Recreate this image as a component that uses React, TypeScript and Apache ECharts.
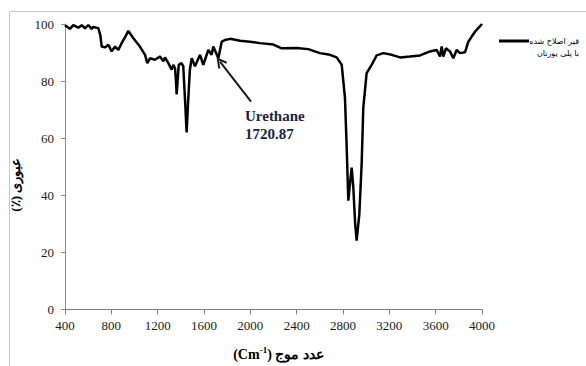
import React, { useEffect, useRef } from "react";
import * as echarts from "echarts";

const wavenumbers = [
  400, 443, 472, 515, 544, 573, 601, 630, 644, 688, 705, 717, 745, 774, 803, 832, 860, 889, 920, 947,
  990, 1047, 1091, 1111, 1134, 1177, 1220, 1249, 1263, 1292, 1321, 1335, 1350, 1358, 1364, 1372, 1382,
  1405, 1421, 1438, 1450, 1462, 1478, 1494, 1522, 1566, 1594, 1637, 1666, 1680, 1724, 1753,
  1781, 1825, 1911, 1997, 2083, 2200, 2270, 2400, 2500, 2601, 2688, 2745, 2789, 2817, 2832, 2846, 2860,
  2875, 2889, 2905, 2918, 2941, 2961, 2975, 3004, 3047, 3091, 3148, 3220, 3292, 3378, 3465, 3551, 3609,
  3637, 3652, 3666, 3689, 3724, 3752, 3781, 3810, 3853, 3882, 3911, 3940, 4000,
];
const transmittance = [
  99.6, 98.3, 99.6, 98.7, 99.6, 98.5, 99.6, 98.3, 99.0, 98.5, 96.0, 92.1, 91.8, 92.7, 90.4, 92.1, 90.9, 93.3, 95.5, 97.6,
  95.0, 92.1, 89.2, 86.3, 88.0, 87.5, 88.6, 86.9, 88.3, 86.3, 84.0, 85.7, 84.5, 80.0, 75.3, 80.0, 85.7,
  86.3, 85.2, 72.0, 62.0, 72.0, 84.0, 88.0, 85.2, 89.2, 85.7, 90.9, 89.2, 92.1, 88.0, 93.8,
  94.4, 94.8, 94.1, 93.8, 93.3, 92.8, 91.5, 91.6, 91.2, 89.8, 89.2, 88.3, 85.7, 74.1, 56.7, 38.1, 44.0,
  49.7, 42.8, 30.0, 24.1, 33.4, 50.9, 70.6, 82.8, 85.7, 89.0, 89.8, 89.2, 88.3, 88.6, 89.0, 90.4, 90.9,
  88.6, 92.1, 88.6, 91.5, 90.4, 88.0, 90.9, 89.8, 90.1, 93.8, 95.6, 97.3, 100.0,
];
const seriesName = "قیر اصلاح شده\nبا پلی یورتان";
const legendLines = ["قیر اصلاح شده", "با پلی یورتان"];
const annotationLines = ["Urethane", "1720.87"];
const arrowTail = [2006, 72.8];
const arrowHead = [1738, 86.8];

export default function App() {
  const ref = useRef<HTMLDivElement>(null);
  useEffect(() => {
    if (!ref.current) return;
    const chart = echarts.init(ref.current, null, { renderer: "svg" });
    const serif = "'Liberation Serif', 'Times New Roman', serif";
    chart.setOption({
      animation: false,
      backgroundColor: "#ffffff",
      grid: { left: 65, right: 104, top: 24, bottom: 55, containLabel: false },
      xAxis: {
        type: "value",
        min: 400,
        max: 4000,
        interval: 400,
        name: "{a|(Cm}{s|-1}{a|) عدد موج}",
        nameLocation: "middle",
        nameGap: 36,
        nameTextStyle: {
          padding: [0, 0, 0, 10],
          rich: {
            a: { fontFamily: serif, fontWeight: "bold", fontSize: 14, color: "#000" },
            s: { fontFamily: serif, fontWeight: "bold", fontSize: 9, color: "#000", padding: [0, 0, 8, 0] },
          },
        },
        axisLine: { show: true, lineStyle: { color: "#7f7f7f", width: 1 } },
        axisTick: { show: true, length: 5, inside: false, lineStyle: { color: "#7f7f7f" } },
        axisLabel: {
          fontFamily: serif,
          fontSize: 13,
          color: "#1a1a1a",
          margin: 9,
          formatter: (v: number) => String(v),
        },
        splitLine: { show: false },
      },
      yAxis: {
        type: "value",
        min: 0,
        max: 100,
        interval: 20,
        name: "(٪) عبوری",
        nameLocation: "middle",
        nameGap: 43,
        nameTextStyle: {
          fontFamily: serif,
          fontWeight: "bold",
          fontSize: 13,
          color: "#000",
          padding: [0, 36, 0, 0],
        },
        axisLine: { show: true, lineStyle: { color: "#8c8c8c", width: 1 } },
        axisTick: { show: true, length: 4, inside: false, lineStyle: { color: "#8c8c8c" } },
        axisLabel: {
          fontFamily: serif,
          fontSize: 13,
          color: "#1a1a1a",
          margin: 11,
          formatter: (v: number) => String(v),
        },
        splitLine: { show: false },
      },
      series: [
        {
          name: seriesName,
          type: "line",
          data: wavenumbers.map((w, i) => [w, transmittance[i]]),
          showSymbol: false,
          symbol: "none",
          smooth: false,
          lineStyle: { color: "#000", width: 2.5 },
          itemStyle: { color: "#000" },
          markLine: {
            silent: true,
            symbol: ["none", "path://M0,0 L6,9 L4.2,10.2 L0,3.6 L-4.2,10.2 L-6,9 Z"],
            symbolSize: [11, 11],
            label: { show: false },
            lineStyle: { color: "#1a1a1a", width: 2, type: "solid" },
            data: [[{ coord: arrowTail }, { coord: arrowHead }]],
          },
        },
      ],
      graphic: [
        {
          type: "rect",
          shape: { x: 9.5, y: 11.5, width: 600, height: 400 },
          style: { fill: "none", stroke: "#c8c8c8", lineWidth: 1 },
          silent: true,
        },
        {
          type: "text",
          left: 245,
          top: 107,
          style: {
            text: annotationLines.join("\n"),
            fontFamily: serif,
            fontWeight: "bold",
            fontSize: 15,
            lineHeight: 18,
            fill: "#1c2340",
          },
        },
        {
          type: "line",
          shape: { x1: 499, y1: 41, x2: 529, y2: 41 },
          style: { stroke: "#000", lineWidth: 3 },
        },
        {
          type: "text",
          x: 579,
          y: 41,
          style: {
            text: legendLines[0],
            fontFamily: "'DejaVu Sans', sans-serif",
            fontSize: 8,
            fill: "#000",
            align: "right",
            verticalAlign: "middle",
          },
        },
        {
          type: "text",
          x: 579,
          y: 53,
          style: {
            text: legendLines[1],
            fontFamily: "'DejaVu Sans', sans-serif",
            fontSize: 8,
            fill: "#000",
            align: "right",
            verticalAlign: "middle",
          },
        },
      ],
    });
    return () => chart.dispose();
  }, []);
  return (
    <div
      ref={ref}
      style={{ position: "fixed", left: 0, top: 0, width: 586, height: 366, background: "#fff" }}
    />
  );
}
